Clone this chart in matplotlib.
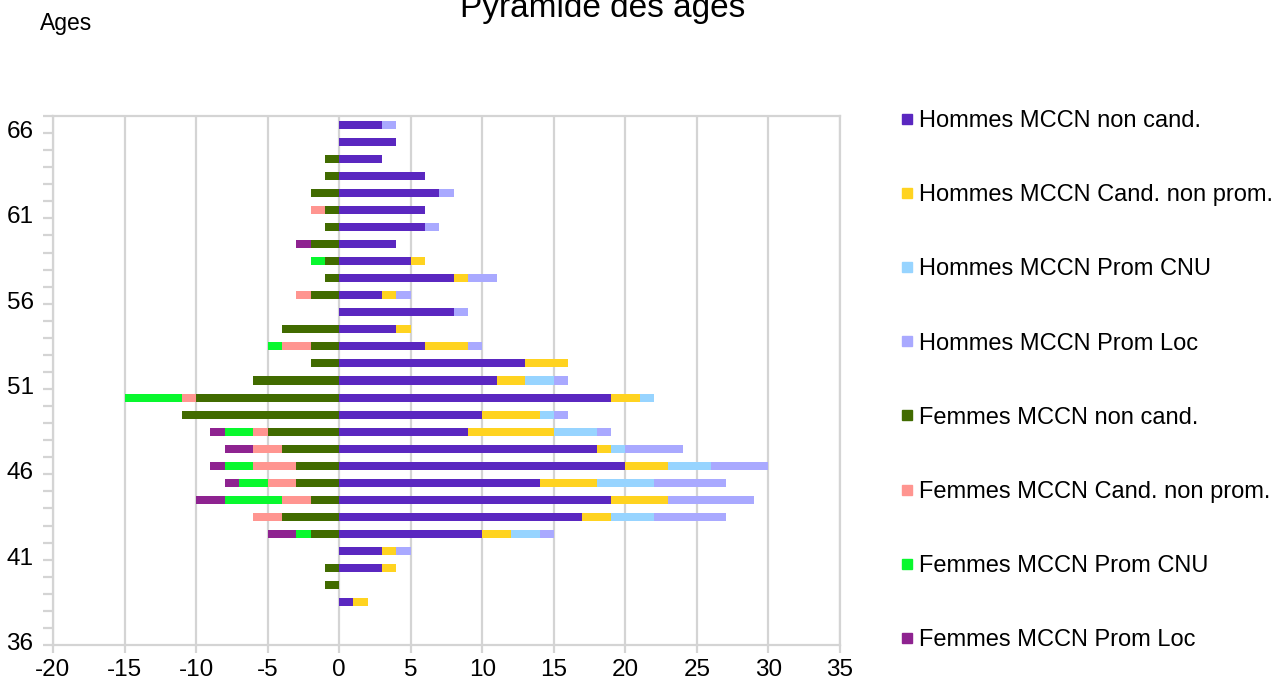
import numpy as np
import matplotlib
matplotlib.use("Agg")
from matplotlib import pyplot as plt
from matplotlib.lines import Line2D
from matplotlib.transforms import ScaledTranslation

plt.rcParams['font.family'] = ['Liberation Sans', 'DejaVu Sans']
plt.rcParams['axes.unicode_minus'] = False

# ages 38 .. 66 (bottom to top)
ages = list(range(38, 67))

# hommes (right side)
h_non_cand = [1, 0, 3, 3, 10, 17, 19, 14, 20, 18, 9, 10, 19, 11, 13, 6, 4, 8, 3, 8, 5, 4, 6, 6, 7, 6, 3, 4, 3]
h_cand_non_prom = [1, 0, 1, 1, 2, 2, 4, 4, 3, 1, 6, 4, 2, 2, 3, 3, 1, 0, 1, 1, 1, 0, 0, 0, 0, 0, 0, 0, 0]
h_prom_cnu = [0, 0, 0, 0, 2, 3, 0, 4, 3, 1, 3, 1, 1, 2, 0, 0, 0, 0, 0, 0, 0, 0, 0, 0, 0, 0, 0, 0, 0]
h_prom_loc = [0, 0, 0, 1, 1, 5, 6, 5, 4, 4, 1, 1, 0, 1, 0, 1, 0, 1, 1, 2, 0, 0, 1, 0, 1, 0, 0, 0, 1]

# femmes (left side)
f_non_cand = [0, 1, 1, 0, 2, 4, 2, 3, 3, 4, 5, 11, 10, 6, 2, 2, 4, 0, 2, 1, 1, 2, 1, 1, 2, 1, 1, 0, 0]
f_cand_non_prom = [0, 0, 0, 0, 0, 2, 2, 2, 3, 2, 1, 0, 1, 0, 0, 2, 0, 0, 1, 0, 0, 0, 0, 1, 0, 0, 0, 0, 0]
f_prom_cnu = [0, 0, 0, 0, 1, 0, 4, 2, 2, 0, 2, 0, 4, 0, 0, 1, 0, 0, 0, 0, 1, 0, 0, 0, 0, 0, 0, 0, 0]
f_prom_loc = [0, 0, 0, 0, 2, 0, 2, 1, 1, 2, 1, 0, 0, 0, 0, 0, 0, 0, 0, 0, 0, 1, 0, 0, 0, 0, 0, 0, 0]

hommes = [
    ("Hommes MCCN non cand.", h_non_cand, "#5a27c0"),
    ("Hommes MCCN Cand. non prom.", h_cand_non_prom, "#ffd320"),
    ("Hommes MCCN Prom CNU", h_prom_cnu, "#97d4ff"),
    ("Hommes MCCN Prom Loc", h_prom_loc, "#a9a9ff"),
]
femmes = [
    ("Femmes MCCN non cand.", f_non_cand, "#416b00"),
    ("Femmes MCCN Cand. non prom.", f_cand_non_prom, "#ff9590"),
    ("Femmes MCCN Prom CNU", f_prom_cnu, "#08f82e"),
    ("Femmes MCCN Prom Loc", f_prom_loc, "#8e2390"),
]

fig = plt.figure(figsize=(12.79, 6.91), dpi=100)
ax = fig.add_axes([53 / 1279, 46 / 691, 787 / 1279, 529 / 691])

y = np.array(ages)
bar_h = 0.47

# right side stacks
left = np.zeros(len(ages))
for label, vals, col in hommes:
    vals = np.array(vals, dtype=float)
    ax.barh(y, vals, left=left, height=bar_h, color=col, label=label, zorder=3)
    left += vals

# left side stacks (negative)
left = np.zeros(len(ages))
for label, vals, col in femmes:
    vals = np.array(vals, dtype=float)
    ax.barh(y, -vals, left=left, height=bar_h, color=col, label=label, zorder=3)
    left -= vals

ax.set_xlim(-20, 35)
ax.set_ylim(35.5, 66.5)
ax.set_xticks(np.arange(-20, 36, 5))
ax.set_yticks(np.arange(36, 67, 5))
ax.set_yticks(np.arange(35.5, 67, 1), minor=True)

grid_col = "#d4d4d4"
ax.grid(axis='x', color=grid_col, linewidth=1.6, zorder=0)
for s in ax.spines.values():
    s.set_color(grid_col)
    s.set_linewidth(1.6)

ax.tick_params(axis='x', which='major', length=6, color=grid_col, width=1.6,
               labelsize=17.5, pad=4)
ax.tick_params(axis='y', which='major', length=0, labelsize=17.5, pad=14)
ax.tick_params(axis='y', which='minor', length=7, color=grid_col, width=1.6)

# age labels sit a bit below the bar centres in the original
shift = ScaledTranslation(0, -5 / 100, fig.dpi_scale_trans)
for lab in ax.get_yticklabels():
    lab.set_transform(lab.get_transform() + shift)

fig.text(603 / 1279, 1 - 17 / 691, "Pyramide des ages", ha='center', va='baseline', fontsize=24)
fig.text(40 / 1279, 1 - 30 / 691, "Ages", ha='left', va='baseline', fontsize=16.5)

# legend with small square markers
handles = []
labels = []
for label, vals, col in hommes + femmes:
    handles.append(Line2D([], [], marker='s', linestyle='', color=col, markersize=7.5))
    labels.append(label)
fig.legend(handles, labels, loc='upper left', bbox_to_anchor=(900 / 1279, 1 - 110 / 691),
           frameon=False, fontsize=17, labelspacing=2.21, handlelength=0.6,
           handletextpad=0.2, borderpad=0, borderaxespad=0)

fig.savefig("out.png", dpi=100)
